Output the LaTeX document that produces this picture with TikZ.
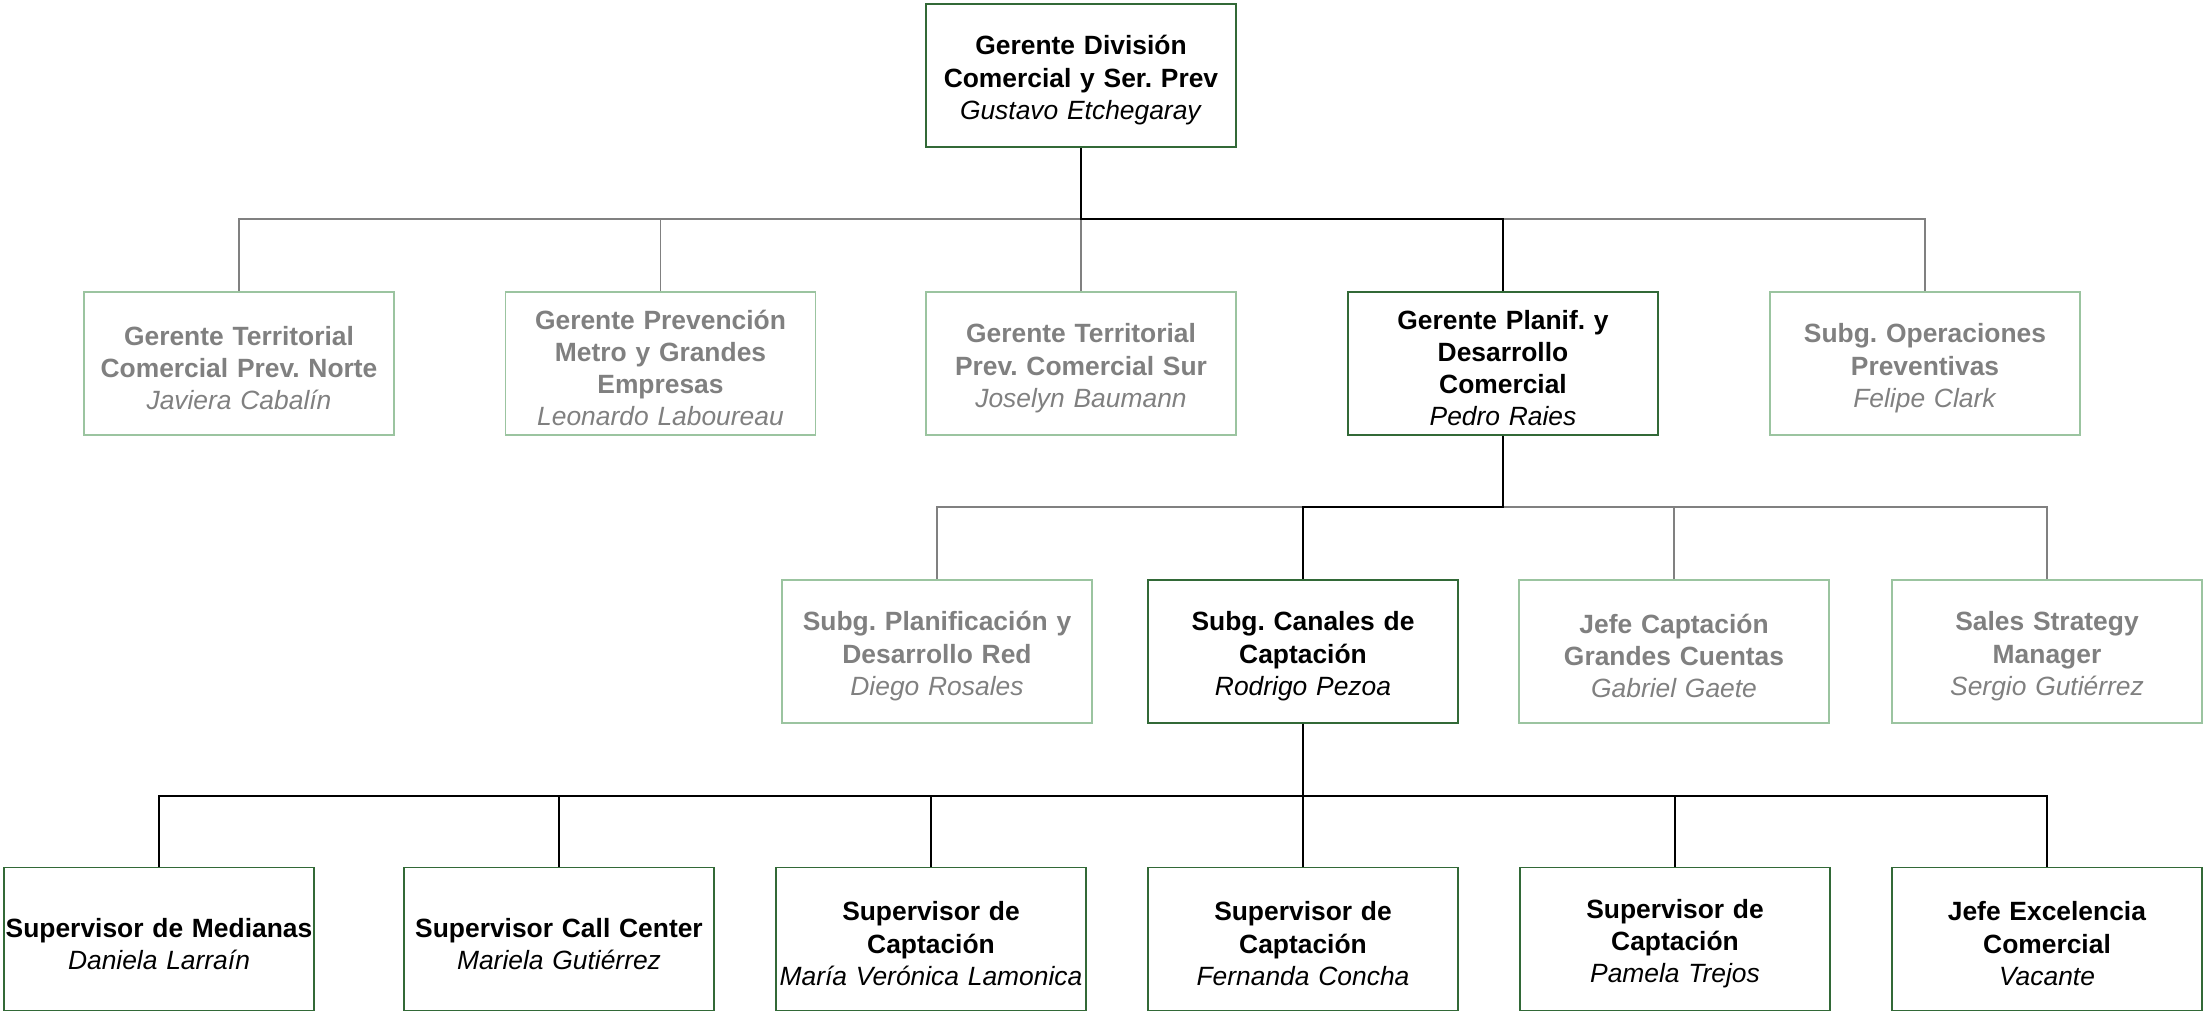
\documentclass[tikz,border=0pt]{standalone}
\usepackage{fontspec}
\setmainfont{Liberation Sans}
\frenchspacing
\begin{document}
\begin{tikzpicture}[x=0.5pt,y=-0.5pt,
  box/.style={draw, line width=0.75pt, text width=175pt, minimum width=155pt, minimum height=71.5pt, align=center, inner xsep=-10pt, inner ysep=0pt,
    font=\fontsize{13.2}{16.1}\selectfont, execute at begin node={\rule{0pt}{14.3pt}}},
  act/.style={box, draw=actgreen, text=black},
  ina/.style={box, draw=inagreen, text=inagrey},
  bline/.style={draw=black, line width=1pt},
  gline/.style={draw=linegrey, line width=0.7pt}]
\definecolor{actgreen}{RGB}{50,105,55}
\definecolor{inagreen}{RGB}{155,196,160}
\definecolor{inagrey}{RGB}{128,128,128}
\definecolor{linegrey}{RGB}{128,128,128}
\useasboundingbox (0,0) rectangle (2204,1012);
% top
\node[act] (top) at (1081,75.5) {\textbf{Gerente División}\\\textbf{Comercial y Ser. Prev}\\\textit{Gustavo Etchegaray}};
% level 2
\node[ina] (g1) at (239,363.5) {\textbf{Gerente Territorial}\\\textbf{Comercial Prev. Norte}\\\textit{Javiera Cabalín}};
\node[ina] (g2) at (660.5,363.5) {\textbf{Gerente Prevención}\\\textbf{Metro y Grandes}\\\textbf{Empresas}\\\textit{Leonardo Laboureau}};
\node[ina] (g3) at (1081,363.5) {\textbf{Gerente Territorial}\\\textbf{Prev. Comercial Sur}\\\textit{Joselyn Baumann}};
\node[act] (g4) at (1503,363.5) {\textbf{Gerente Planif. y}\\\textbf{Desarrollo}\\\textbf{Comercial}\\\textit{Pedro Raies}};
\node[ina] (g5) at (1925,363.5) {\textbf{Subg. Operaciones}\\\textbf{Preventivas}\\\textit{Felipe Clark}};
% level 3
\node[ina] (s1) at (937,651.5) {\textbf{Subg. Planificación y}\\\textbf{Desarrollo Red}\\\textit{Diego Rosales}};
\node[act] (s2) at (1303,651.5) {\textbf{Subg. Canales de}\\\textbf{Captación}\\\textit{Rodrigo Pezoa}};
\node[ina] (s3) at (1674,651.5) {\textbf{Jefe Captación}\\\textbf{Grandes Cuentas}\\\textit{Gabriel Gaete}};
\node[ina] (s4) at (2047,651.5) {\textbf{Sales Strategy}\\\textbf{Manager}\\\textit{Sergio Gutiérrez}};
% level 4
\node[act] (l1) at (159,939) {\textbf{Supervisor de Medianas}\\\textit{Daniela Larraín}};
\node[act] (l2) at (559,939) {\textbf{Supervisor Call Center}\\\textit{Mariela Gutiérrez}};
\node[act] (l3) at (931,939) {\textbf{Supervisor de}\\\textbf{Captación}\\\textit{María Verónica Lamonica}};
\node[act] (l4) at (1303,939) {\textbf{Supervisor de}\\\textbf{Captación}\\\textit{Fernanda Concha}};
\node[act] (l5) at (1675,939) {\textbf{Supervisor de}\\\textbf{Captación}\\\textit{Pamela Trejos}};
\node[act] (l6) at (2047,939) {\textbf{Jefe Excelencia}\\\textbf{Comercial}\\\textit{Vacante}};
% bus coordinates
\coordinate (b1) at (0,219);
\coordinate (b2) at (0,507);
\coordinate (b3) at (0,795.5);
% grey connectors
\foreach \c in {g1,g2,g3,g5}
  \draw[gline] (top.south) -- (top.south |- b1) -| (\c.north);
\foreach \c in {s1,s3,s4}
  \draw[gline] (g4.south) -- (g4.south |- b2) -| (\c.north);
% black connectors
\draw[bline] (top.south) -- (top.south |- b1) -| (g4.north);
\draw[bline] (g4.south) -- (g4.south |- b2) -| (s2.north);
\foreach \c in {l1,l2,l3,l4,l5,l6}
  \draw[bline] (s2.south) -- (s2.south |- b3) -| (\c.north);
\end{tikzpicture}
\end{document}
